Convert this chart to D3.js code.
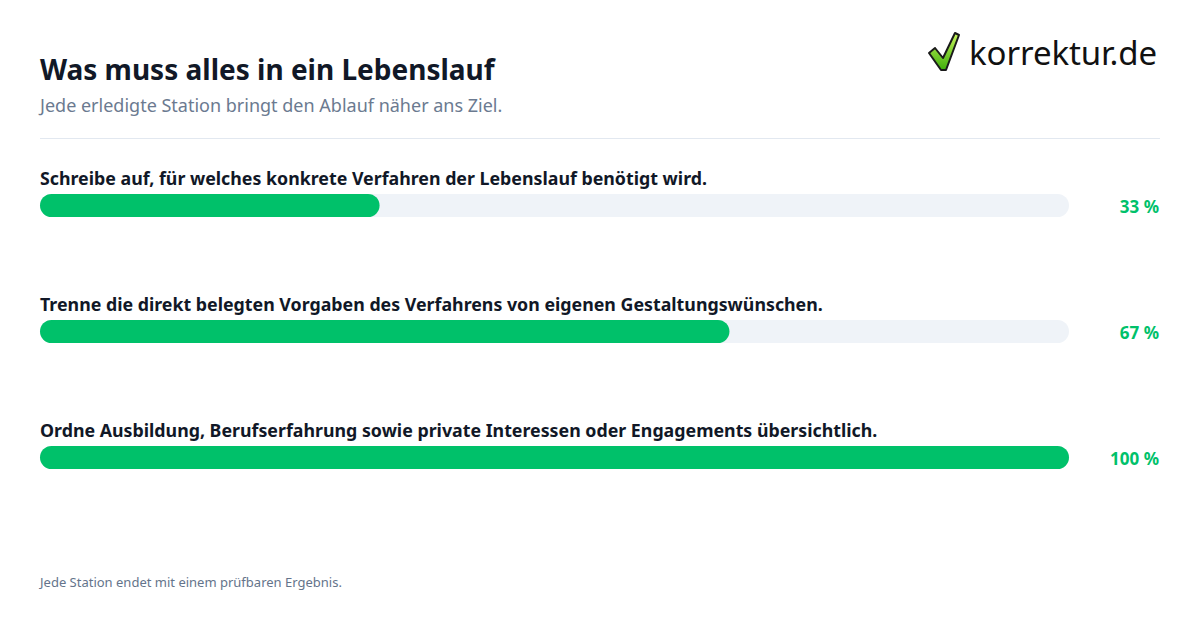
<!DOCTYPE html>
<html><head><meta charset="utf-8">
<script src="https://cdn.jsdelivr.net/npm/d3@7"></script>
<style>body{margin:0;background:#fff}svg{display:block}</style>
</head><body>
<svg id="c" width="1200" height="630"></svg>
<script>
const categories = [
  "Schreibe auf, für welches konkrete Verfahren der Lebenslauf benötigt wird.",
  "Trenne die direkt belegten Vorgaben des Verfahrens von eigenen Gestaltungswünschen.",
  "Ordne Ausbildung, Berufserfahrung sowie private Interessen oder Engagements übersichtlich."
];
const values = [33, 67, 100];
const valueLabels = ["33 %", "67 %", "100 %"];

const svg = d3.select("#c");
const font = "'Noto Sans', sans-serif";
svg.append("rect").attr("width",1200).attr("height",630).attr("fill","#fff");

svg.append("text").attr("x",40).attr("y",80).attr("font-family",font).attr("font-weight",700)
  .attr("font-size",28).attr("fill","#111827").text("Was muss alles in ein Lebenslauf");
svg.append("text").attr("x",40).attr("y",112).attr("font-family",font)
  .attr("font-size",18).attr("fill","#6b7a90").text("Jede erledigte Station bringt den Ablauf näher ans Ziel.");
svg.append("line").attr("x1",40).attr("x2",1160).attr("y1",138.5).attr("y2",138.5)
  .attr("stroke","#e2e8f0").attr("stroke-width",1);

// logo
const logo = svg.append("g");
const grad = svg.append("defs").append("linearGradient").attr("id","g1").attr("x1",0).attr("y1",0).attr("x2",0).attr("y2",1);
grad.append("stop").attr("offset",0).attr("stop-color","#c8f55a");
grad.append("stop").attr("offset",1).attr("stop-color","#3fae0c");
logo.append("path")
  .attr("d","M929,53 L935,48 L943,58 L955,33 L959,35 L946,70 L941,70 Z")
  .attr("fill","url(#g1)").attr("stroke","#1a1a1a").attr("stroke-width",2).attr("stroke-linejoin","round");
logo.append("text").attr("x",969).attr("y",65).attr("font-family","'Noto Sans', sans-serif")
  .attr("font-size",33).attr("fill","#111").attr("textLength",188).text("korrektur.de");

const x = d3.scaleLinear().domain([0,100]).range([40,1069]);
const y = d3.scaleBand().domain(categories).range([168,546]).paddingInner(0).paddingOuter(0);

const rows = svg.selectAll("g.row").data(categories).join("g").attr("class","row")
  .attr("transform", d => `translate(0,${y(d)})`);
rows.append("text").attr("x",40).attr("y",17).attr("font-family",font).attr("font-weight",700)
  .attr("font-size",17.8).attr("fill","#111827").text(d=>d);
rows.append("rect").attr("x",x(0)).attr("y",26).attr("width",x(100)-x(0)).attr("height",23)
  .attr("rx",11.5).attr("fill","#eff3f8");
rows.append("rect").attr("x",x(0)).attr("y",26).attr("width",(d,i)=>x(values[i])-x(0)).attr("height",23)
  .attr("rx",11.5).attr("fill","#00c16a");
rows.append("text").attr("x",1159).attr("y",45).attr("text-anchor","end").attr("font-family",font)
  .attr("font-weight",700).attr("font-size",17).attr("fill","#00c16a").text((d,i)=>valueLabels[i]);

svg.append("text").attr("x",40).attr("y",587).attr("font-family",font)
  .attr("font-size",13).attr("fill","#64748b").text("Jede Station endet mit einem prüfbaren Ergebnis.");
</script>
</body></html>
